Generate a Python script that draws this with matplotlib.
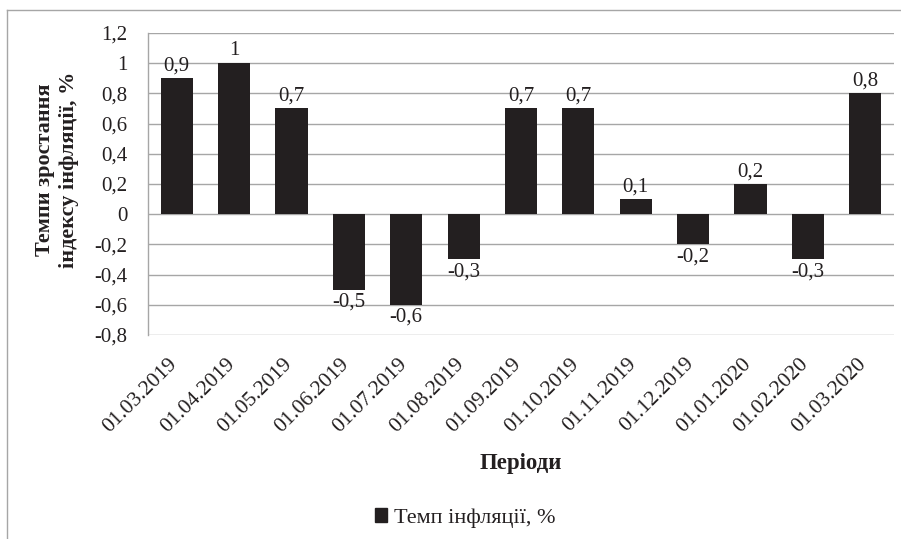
import matplotlib
matplotlib.use("Agg")
import matplotlib.pyplot as plt
import matplotlib.transforms as mtransforms
from matplotlib.patches import Patch
from matplotlib.lines import Line2D

plt.rcParams['font.family'] = ['Liberation Serif', 'DejaVu Serif']

categories = ["01.03.2019", "01.04.2019", "01.05.2019", "01.06.2019", "01.07.2019",
              "01.08.2019", "01.09.2019", "01.10.2019", "01.11.2019", "01.12.2019",
              "01.01.2020", "01.02.2020", "01.03.2020"]
values = [0.9, 1.0, 0.7, -0.5, -0.6, -0.3, 0.7, 0.7, 0.1, -0.2, 0.2, -0.3, 0.8]
yticks = [-0.8, -0.6, -0.4, -0.2, 0, 0.2, 0.4, 0.6, 0.8, 1.0, 1.2]
series_name = "Темп інфляції, %"

W, H = 901, 539
fig = plt.figure(figsize=(W / 100, H / 100), dpi=100)
ax = fig.add_axes([148 / W, 1 - 335 / H, (894 - 148) / W, (335 - 33) / H])

bar_color = "#231f20"
text_color = "#231f20"
grid_color = "#a6a6a6"
fs = 15

x = list(range(len(categories)))
ax.bar(x, values, width=0.56, color=bar_color, zorder=3)
ax.set_xlim(-0.5, len(categories) - 0.5)
ax.set_ylim(-0.8, 1.2)
ax.set_yticks(yticks)

def fmt(v):
    s = f"{v:.1f}".replace(".", ",")
    if s.endswith(",0"):
        s = s[:-2]
    if s == "-0":
        s = "0"
    return s

ax.set_yticklabels([fmt(v) for v in yticks], fontsize=fs, color=text_color)
ax.set_xticks(x)
ax.set_xticklabels(categories, rotation=45, ha="right", va="top",
                   rotation_mode="anchor", fontsize=15.5, color=text_color)
ax.tick_params(axis="both", length=0)
ax.tick_params(axis="y", pad=15)
ax.tick_params(axis="x", pad=14)
shift = mtransforms.ScaledTranslation(-9 / 100, 0, fig.dpi_scale_trans)
for lbl in ax.get_xticklabels():
    lbl.set_transform(lbl.get_transform() + shift)

ax.yaxis.grid(True, color=grid_color, linewidth=1.0, zorder=0)
ax.set_axisbelow(True)
for s in ["top", "right", "bottom"]:
    ax.spines[s].set_visible(False)
ax.spines["left"].set_color(grid_color)
ax.spines["left"].set_linewidth(1.0)

for xi, v in zip(x, values):
    if v >= 0:
        ax.annotate(fmt(v), (xi, v), xytext=(0, 2), textcoords="offset points",
                    ha="center", va="bottom", fontsize=fs, color=text_color)
    else:
        ax.annotate(fmt(v), (xi, v), xytext=(0, -2), textcoords="offset points",
                    ha="center", va="top", fontsize=fs, color=text_color)

fig.text(57 / W, 1 - 170 / H, "Темпи зростання\nіндексу інфляції, %",
         rotation=90, ha="center", va="center", multialignment="center",
         fontsize=16, fontweight="bold", color=text_color, linespacing=1.25)
fig.text(521 / W, 1 - 463 / H, "Періоди", ha="center", va="center",
         fontsize=16.5, fontweight="bold", color=text_color)

handle = Patch(facecolor=bar_color, edgecolor=bar_color)
fig.legend([handle], [series_name], loc="center", bbox_to_anchor=(465 / W, 1 - 518 / H),
           frameon=False, fontsize=16, handlelength=0.55, handleheight=0.55,
           handletextpad=0.3, labelcolor=text_color)

# outer chart frame
fig.add_artist(Line2D([7 / W, 7 / W], [0, 1 - 10 / H], transform=fig.transFigure,
                      color=grid_color, linewidth=1.0))
fig.add_artist(Line2D([7 / W, 1], [1 - 10 / H, 1 - 10 / H], transform=fig.transFigure,
                      color=grid_color, linewidth=1.0))

fig.savefig("out.png", dpi=100)
